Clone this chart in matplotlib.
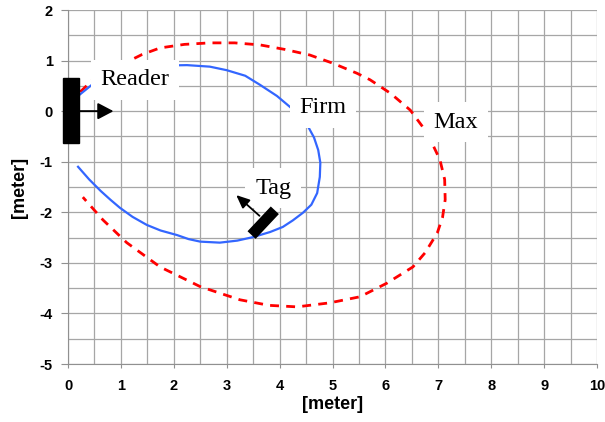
import matplotlib
matplotlib.use("Agg")
import matplotlib.pyplot as plt
from matplotlib.patches import Rectangle
import numpy as np

plt.rcParams["axes.unicode_minus"] = False

# Firm read range (blue, solid)
firm_x = [0.19, 0.45, 0.80, 1.20, 1.70, 2.25, 2.68, 3.00, 3.35, 3.63, 3.95, 4.20,
          4.40, 4.52, 4.65, 4.73, 4.77, 4.76, 4.71, 4.60, 4.44, 4.25, 4.06, 3.82,
          3.50, 3.20, 2.87, 2.50, 2.28, 2.06, 1.75, 1.49, 1.22, 0.98, 0.80, 0.62,
          0.40, 0.19]
firm_y = [0.30, 0.52, 0.70, 0.82, 0.90, 0.91, 0.88, 0.81, 0.70, 0.52, 0.30, 0.08,
          -0.12, -0.27, -0.52, -0.77, -1.02, -1.30, -1.62, -1.85, -2.01, -2.16, -2.29, -2.39,
          -2.49, -2.56, -2.60, -2.58, -2.53, -2.45, -2.36, -2.25, -2.09, -1.91, -1.75, -1.58,
          -1.35, -1.10]

# Max read range (red, dashed)
max_x = [0.23, 0.47, 0.75, 1.11, 1.40, 1.74, 2.20, 2.68, 3.15, 3.63, 4.10, 4.57,
         5.00, 5.46, 5.71, 6.10, 6.47, 6.79, 7.03, 7.12, 7.13, 7.08, 6.98, 6.75,
         6.52, 6.03, 5.52, 4.95, 4.33, 3.80, 3.25, 2.50, 1.74, 1.11, 0.66, 0.28]
max_y = [0.38, 0.62, 0.82, 0.97, 1.12, 1.25, 1.32, 1.35, 1.35, 1.31, 1.22, 1.11,
         0.95, 0.75, 0.62, 0.35, 0.02, -0.43, -0.96, -1.35, -1.75, -2.10, -2.41, -2.80,
         -3.08, -3.40, -3.67, -3.79, -3.87, -3.84, -3.73, -3.47, -3.08, -2.60, -2.15, -1.70]

# annotation labels (text, x, y)
labels = [("Reader", 1.27, 0.62), ("Firm", 4.82, 0.07), ("Max", 7.33, -0.22), ("Tag", 3.88, -1.52)]

# reader antenna and tag symbols
reader_box = (-0.095, -0.63, 0.305, 1.29)  # x, y, w, h
reader_arrow = ((0.21, 0.0), (0.86, 0.0))
tag_bar = ((3.47, -2.45), (3.91, -1.96))
tag_arrow = ((3.62, -2.07), (3.18, -1.66))

fig = plt.figure(figsize=(6.05, 4.22), dpi=100)
ax = fig.add_axes([0.1124, 0.1374, 0.8744, 0.8389])

ax.set_xlim(0, 10)
ax.set_ylim(-5, 2)
ax.set_xticks(range(0, 11))
ax.set_yticks(range(-5, 3))
ax.set_xticks(np.arange(0, 10.01, 0.5), minor=True)
ax.set_yticks(np.arange(-5, 2.01, 0.5), minor=True)
ax.grid(True, which="both", color="#a6a6a6", lw=0.9)
ax.set_axisbelow(True)
ax.tick_params(which="minor", length=0)
ax.tick_params(axis="y", which="major", direction="out", length=5, color="#909090", pad=6)
ax.tick_params(axis="x", which="major", direction="out", length=3, color="#909090", pad=8)
for s in ["top", "right"]:
    ax.spines[s].set_visible(False)
for s in ["left", "bottom"]:
    ax.spines[s].set_color("#909090")

for lab in ax.get_xticklabels() + ax.get_yticklabels():
    lab.set_fontfamily("Liberation Sans")
    lab.set_fontweight("bold")
    lab.set_fontsize(10.5)

ax.set_xlabel("[meter]", fontfamily="Liberation Sans", fontweight="bold", fontsize=13, labelpad=2)
ax.set_ylabel("[meter]", fontfamily="Liberation Sans", fontweight="bold", fontsize=13, labelpad=8)

ax.plot(max_x, max_y, color="#ff0000", lw=2.0, dashes=(3.2, 2.6), zorder=3)
ax.plot(firm_x, firm_y, color="#3366ff", lw=1.6, zorder=3, solid_joinstyle="round")

for text, tx, ty in labels:
    ax.text(tx, ty, text, ha="center", va="center", fontfamily="Liberation Serif",
            fontsize=17.5, zorder=5,
            bbox=dict(boxstyle="square,pad=0.4", fc="white", ec="none"))

rx, ry, rw, rh = reader_box
ax.add_patch(Rectangle((rx, ry), rw, rh, color="black", clip_on=False, zorder=6))
ax.annotate("", xy=reader_arrow[1], xytext=reader_arrow[0],
            arrowprops=dict(arrowstyle="-|>,head_length=0.95,head_width=0.5",
                            color="black", lw=1.4, shrinkA=0, shrinkB=0), zorder=6)

ax.plot([tag_bar[0][0], tag_bar[1][0]], [tag_bar[0][1], tag_bar[1][1]],
        color="black", lw=8, solid_capstyle="butt", zorder=6)
ax.annotate("", xy=tag_arrow[1], xytext=tag_arrow[0],
            arrowprops=dict(arrowstyle="-|>,head_length=0.8,head_width=0.35",
                            color="black", lw=1.3, shrinkA=0, shrinkB=0), zorder=6)

fig.savefig("out.png", dpi=100)
